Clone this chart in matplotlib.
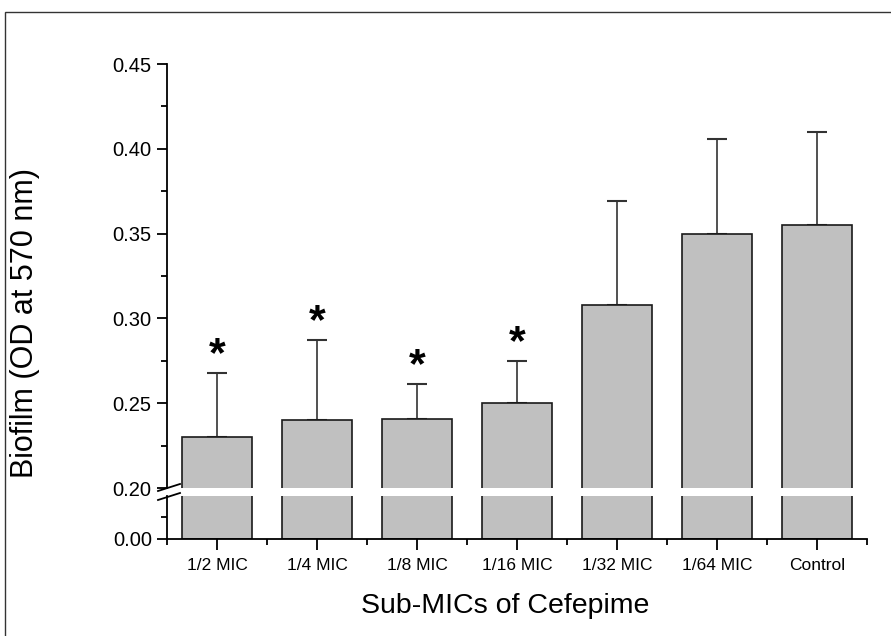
import matplotlib
matplotlib.use("Agg")
import matplotlib.pyplot as plt
from matplotlib.patches import Rectangle
from matplotlib.lines import Line2D
import numpy as np

plt.rcParams['font.family'] = ['Liberation Sans', 'DejaVu Sans']

categories = ["1/2 MIC", "1/4 MIC", "1/8 MIC", "1/16 MIC", "1/32 MIC", "1/64 MIC", "Control"]
values = [0.230, 0.240, 0.2405, 0.250, 0.308, 0.3495, 0.355]
errors = [0.038, 0.047, 0.021, 0.025, 0.061, 0.056, 0.055]
significant = [True, True, True, True, False, False, False]

W, H = 891, 636
fig = plt.figure(figsize=(W / 100, H / 100), dpi=100)

def fx(px):
    return px / W

def fy(py):
    return 1 - py / H

left, right = 167, 867
ax_top = fig.add_axes([fx(left), fy(488), fx(right - left), fy(64) - fy(488)])
ax_bot = fig.add_axes([fx(left), fy(539), fx(right - left), fy(496) - fy(539)])

x = np.arange(1, len(categories) + 1)
bar_color = "#c0c0c0"
for ax in (ax_top, ax_bot):
    ax.bar(x, values, width=0.7, color=bar_color, edgecolor="#1a1a1a", linewidth=1.2, zorder=2)
    ax.set_xlim(0.5, len(categories) + 0.5)
    for s in ("top", "right"):
        ax.spines[s].set_visible(False)
    ax.spines["left"].set_linewidth(1.3)
    ax.spines["bottom"].set_linewidth(1.3)
    ax.tick_params(axis="both", which="major", direction="out", length=7, width=1.3, labelsize=14.5)
    ax.tick_params(axis="both", which="minor", direction="out", length=4, width=1.3)

# error bars (upper only)
ax_top.errorbar(x, values, yerr=[np.zeros(len(values)), errors], fmt="none",
                ecolor="#333333", elinewidth=1.2, capsize=7, capthick=1.5, zorder=1)

ax_top.set_ylim(0.20, 0.45)
ax_top.set_yticks([0.20, 0.25, 0.30, 0.35, 0.40, 0.45])
ax_top.set_yticklabels([f"{v:.2f}" for v in [0.20, 0.25, 0.30, 0.35, 0.40, 0.45]])
ax_top.set_yticks([0.225, 0.275, 0.325, 0.375, 0.425], minor=True)
ax_top.spines["bottom"].set_visible(False)
ax_top.tick_params(axis="x", which="both", bottom=False, labelbottom=False)
ax_top.tick_params(axis="y", which="major", pad=4)

ax_bot.set_ylim(0.0, 0.0195)
ax_bot.set_yticks([0.0])
ax_bot.set_yticklabels(["0.00"])
ax_bot.set_yticks([0.01], minor=True)
ax_bot.set_xticks(x)
ax_bot.set_xticklabels(categories, fontsize=12.5)
ax_bot.set_xticks(np.arange(0.5, len(categories) + 1, 1.0), minor=True)
ax_bot.tick_params(axis="x", which="major", length=8, pad=6)

# asterisks
for xi, v, e, sig in zip(x, values, errors, significant):
    if sig:
        ax_top.annotate("*", xy=(xi, v + e), xytext=(0, -1.5), textcoords="offset points",
                        ha="center", va="bottom", fontsize=31, fontweight="bold")

# break marks
for yy in (491, 500):
    fig.add_artist(Line2D([fx(158), fx(180)], [fy(yy), fy(yy - 7)], color="black", lw=1.3))

fig.text(fx(25), fy(323), "Biofilm (OD at 570 nm)", rotation=90, ha="center", va="center", fontsize=22)
fig.text(fx(505), fy(606), "Sub-MICs of Cefepime", ha="center", va="center", fontsize=20.5)

# outer frame
fig.add_artist(Rectangle((fx(5), -0.1), 1.2, fy(12) + 0.1, transform=fig.transFigure,
                         fill=False, edgecolor="#333333", lw=1.0))

fig.savefig("out.png", dpi=100)
